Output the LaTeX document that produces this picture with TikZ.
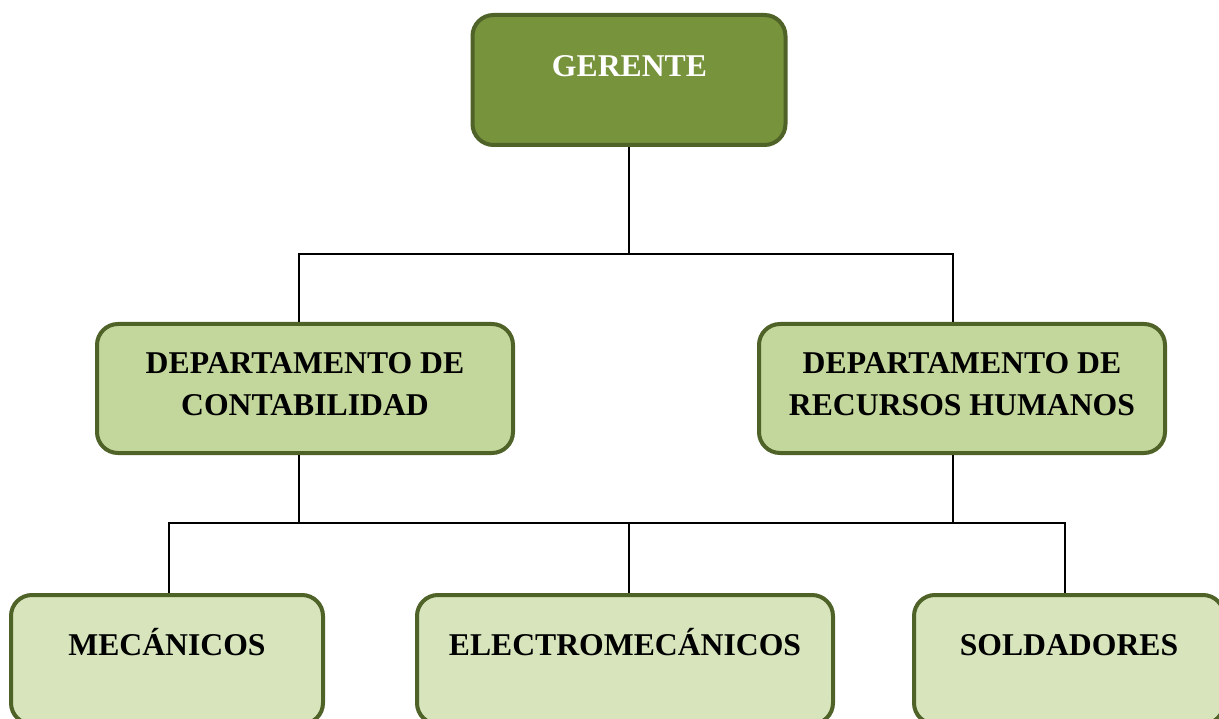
\documentclass[tikz,border=0pt]{standalone}
\usepackage{fontspec}
\setmainfont{Liberation Serif}
\definecolor{darkfill}{HTML}{77933C}
\definecolor{midfill}{HTML}{C3D69B}
\definecolor{lightfill}{HTML}{D7E4BC}
\definecolor{edgegreen}{HTML}{4F6228}
\tikzset{
  box/.style={draw=edgegreen, line width=4pt, rounded corners=21pt, inner sep=0pt},
  lbl/.style={font=\bfseries\fontsize{31.7}{42}\selectfont, align=center, anchor=base, inner sep=0pt},
  conn/.style={draw=black, line width=2pt}
}
\begin{document}
\begin{tikzpicture}[x=1pt, y=-1pt]
\useasboundingbox (0,0) rectangle (1219,719);
\clip (0,0) rectangle (1219,719);
% boxes
\node[box, fill=darkfill, minimum width=313pt, minimum height=130pt] (g) at (629,80) {};
\node[box, fill=midfill, minimum width=416pt, minimum height=129pt] (dl) at (305,388.5) {};
\node[box, fill=midfill, minimum width=406pt, minimum height=129pt] (dr) at (962,388.5) {};
\node[box, fill=lightfill, minimum width=312pt, minimum height=129pt] (m) at (167,659.5) {};
\node[box, fill=lightfill, minimum width=416pt, minimum height=129pt] (e) at (625,659.5) {};
\node[box, fill=lightfill, minimum width=310pt, minimum height=129pt] (s) at (1069,659.5) {};
% texts (base anchor = last line's baseline)
\node[lbl, text=white] (gt) at (629.5,77) {GERENTE};
\node[lbl] (dlt) at (305,415) {DEPARTAMENTO DE\\CONTABILIDAD};
\node[lbl] (drt) at (962,415) {DEPARTAMENTO DE\\RECURSOS HUMANOS};
\node[lbl] (mt) at (167,655) {MECÁNICOS};
\node[lbl] (et) at (625,655) {ELECTROMECÁNICOS};
\node[lbl] (st) at (1069,655) {SOLDADORES};
% connector coordinates
\coordinate (b1) at (629,254);
\coordinate (p1) at (299,254);
\coordinate (p2) at (953,254);
\coordinate (b2) at (629,523);
\coordinate (q1) at (299,523);
\coordinate (q2) at (953,523);
\coordinate (r1) at (169,523);
\coordinate (r3) at (1065,523);
% connectors
\draw[conn] (g.south) -- (b1);
\draw[conn] (p1 |- dl.north) -- (p1) -- (p2) -- (p2 |- dr.north);
\draw[conn] (q1 |- dl.south) -- (q1);
\draw[conn] (q2 |- dr.south) -- (q2);
\draw[conn] (r1 |- m.north) -- (r1) -- (r3) -- (r3 |- s.north);
\draw[conn] (b2) -- (b2 |- e.north);
\end{tikzpicture}
\end{document}
